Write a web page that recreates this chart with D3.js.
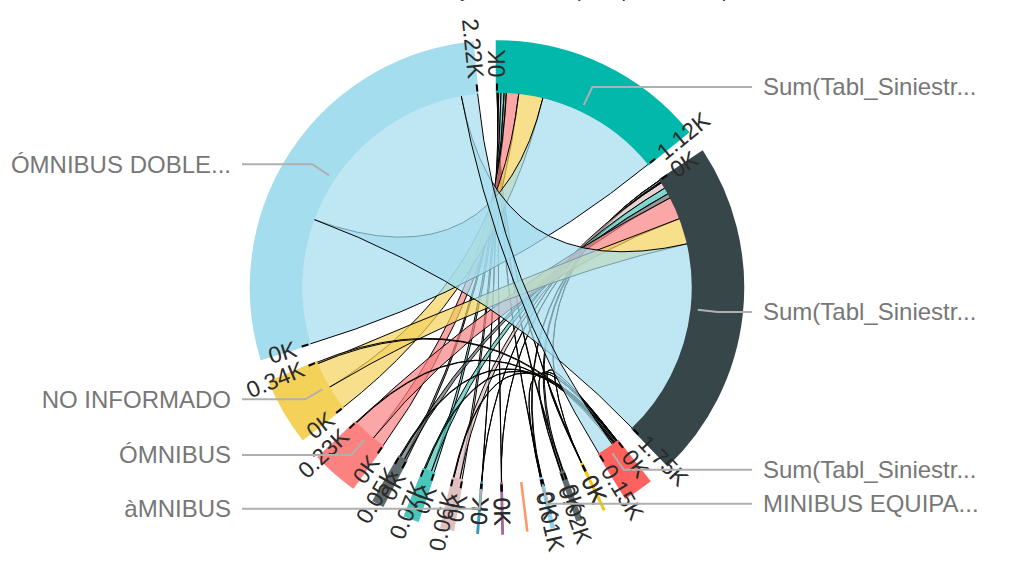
<!DOCTYPE html>
<html>
<head>
<meta charset="utf-8">
<script src="https://cdn.jsdelivr.net/npm/d3@7"></script>
<style>
body { margin: 0; background: #fff; }
text { font-family: "Liberation Sans", Arial, sans-serif; }
</style>
</head>
<body>
<svg id="chart" width="1010" height="566"></svg>
<script>
// groups, clockwise from 12 o'clock: the three measures first, then the vehicle types
const groupNames = ["Sum(Tabl_Siniestr...", "Sum(Tabl_Siniestr...", "Sum(Tabl_Siniestr...",
    null, null, "MINIBUS EQUIPA...", null, null, "àMNIBUS", null, null, null,
    "ÓMNIBUS", "NO INFORMADO", "ÓMNIBUS DOBLE..."]
const groupColors = ["#01B8AA", "#374649", "#FD625E", "#F2C80F", "#5F6B6D", "#8AD4EB", "#FE9666",
    "#A66999", "#3599B8", "#DFBFBF", "#4AC5BB", "#5F6B6D", "#FB8281", "#F4D25A", "#A4DDEE"]
const measureCount = 3

// links from every vehicle type (groups 3..14) to each measure
const toSum1 = [1, 5, 3, 0, 1, 1, 15, 20, 15, 80, 158, 817]
const toSum2 = [1, 12, 6, 0, 1, 1, 40, 42, 30, 147, 170, 1296]
const toSum3 = [1, 3, 1, 0, 0, 0, 5, 8, 7, 5, 10, 106]

const titleText = "Siniestros y lesionados por tipo de transporte"

chordchart = function(svgId)
{
    this.svg = d3.select(svgId)
    this.cx = 497
    this.cy = 287.5
    this.rOut = 246
    this.rIn = 196
    this.matrix = this.buildMatrix()
    this.chords = d3.chord().padAngle(0.1)(this.matrix)
    this.g = this.svg.append("g").attr("transform", `translate(${this.cx},${this.cy})`)
    this.drawTitle()
    this.drawRibbons()
    this.drawGroups()
    this.drawTicks()
    this.drawLabels()
}

chordchart.prototype.buildMatrix = function()
{
    let n = groupNames.length
    let m = d3.range(n).map(() => new Array(n).fill(0))
    let sums = [toSum1, toSum2, toSum3]
    sums.forEach((row, s) => {
        row.forEach((v, i) => {
            m[s][measureCount + i] = v
            m[measureCount + i][s] = v
        })
    })
    return m
}

chordchart.prototype.hasLinks = function(i)
{
    return d3.sum(this.matrix[i]) > 0
}

chordchart.prototype.drawTitle = function()
{
    // the title sits mostly above the visible area, as in the original
    this.svg.append("text")
        .attr("x", 367).attr("y", -3)
        .attr("font-size", 20).attr("fill", "#333")
        .text(titleText)
}

chordchart.prototype.drawRibbons = function()
{
    let ribbon = d3.ribbon().radius(this.rIn)
    this.g.append("g")
        .selectAll("path")
        .data(this.chords)
        .join("path")
        .attr("d", ribbon)
        .attr("fill", d => groupColors[Math.max(d.source.index, d.target.index)])
        .attr("fill-opacity", 0.7)
        .attr("stroke", "#000")
        .attr("stroke-width", 1)
}

chordchart.prototype.drawGroups = function()
{
    let arc = d3.arc().innerRadius(this.rIn).outerRadius(this.rOut)
    this.g.append("g")
        .selectAll("path")
        .data(this.chords.groups)
        .join("path")
        .attr("d", arc)
        .attr("fill", d => groupColors[d.index])
        .attr("stroke", d => groupColors[d.index])
        .attr("stroke-width", 2.5)
}

chordchart.prototype.drawTicks = function()
{
    let fmt = v => +(v / 1000).toFixed(2) + "K"
    let ticks = []
    for (const gr of this.chords.groups) {
        if (!this.hasLinks(gr.index)) continue
        ticks.push({angle: gr.startAngle, value: 0})
        ticks.push({angle: gr.endAngle, value: gr.value})
    }
    let t = this.g.append("g")
        .selectAll("g")
        .data(ticks)
        .join("g")
        .attr("transform", d => `rotate(${d.angle * 180 / Math.PI - 90}) translate(${this.rIn},0)`)
    t.append("line")
        .attr("x1", 1).attr("x2", 8)
        .attr("stroke", "#000").attr("stroke-width", 2)
    t.append("text")
        .attr("x", 14)
        .attr("dy", "0.35em")
        .attr("font-size", 23)
        .attr("fill", "#2b2b2b")
        .attr("transform", d => d.angle > Math.PI ? "rotate(180) translate(-28)" : null)
        .attr("text-anchor", d => d.angle > Math.PI ? "end" : null)
        .text(d => fmt(d.value))
}

chordchart.prototype.drawLabels = function()
{
    let lineX = this.rOut + 9
    let textX = lineX + 11
    let labelled = this.chords.groups.filter(gr => groupNames[gr.index])
    for (const gr of labelled) {
        let mid = (gr.startAngle + gr.endAngle) / 2
        let sx = Math.sin(mid), sy = -Math.cos(mid)
        let right = mid < Math.PI
        let p1 = [202 * sx, 202 * sy]
        let p2 = [222 * sx, 222 * sy]
        let xEnd = right ? lineX : -lineX
        this.g.append("path")
            .attr("d", d3.line()([p1, p2, [xEnd, p2[1]]]))
            .attr("fill", "none")
            .attr("stroke", "#b0b0b0")
            .attr("stroke-width", 2)
        this.g.append("text")
            .attr("x", right ? textX : -textX)
            .attr("y", p2[1])
            .attr("dy", "0.35em")
            .attr("text-anchor", right ? "start" : "end")
            .attr("font-size", 24)
            .attr("fill", "#777")
            .text(groupNames[gr.index])
    }
}

new chordchart("#chart")
</script>
</body>
</html>
